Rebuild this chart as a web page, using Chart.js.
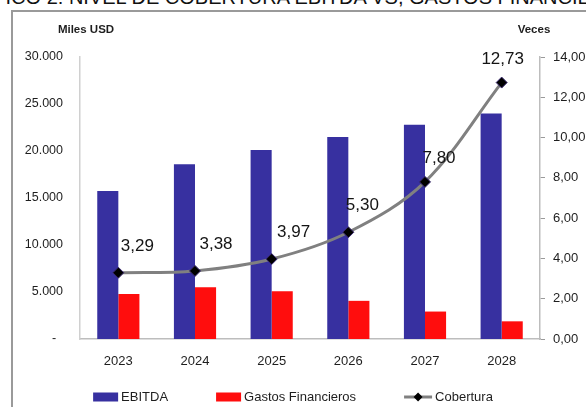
<!DOCTYPE html>
<html>
<head>
<meta charset="utf-8">
<script src="https://cdn.jsdelivr.net/npm/chart.js@4/dist/chart.umd.min.js"></script>
<style>
  html, body { margin:0; padding:0; background:#fff; overflow:hidden; }
  body { width:586px; height:407px; position:relative; }
  #title { position:absolute; left:-50px; top:-13px; white-space:nowrap; font-family:"Liberation Sans", Arial, sans-serif; font-size:20px; line-height:20px; color:#111; }
  #frame { position:absolute; left:11px; top:10px; width:640px; height:460px; border:2px solid #9a9a9a; box-sizing:border-box; }
  #c { position:absolute; left:0; top:0; }
</style>
</head>
<body>
<div id="title">GRÁFICO 2: NIVEL DE COBERTURA EBITDA VS, GASTOS FINANCIEROS</div>
<div id="frame"></div>
<canvas id="c" width="586" height="407"></canvas>
<script>
const years = ['2023', '2024', '2025', '2026', '2027', '2028'];
const ebitda = [15750, 18600, 20100, 21500, 22800, 24000];
const gastosFinancieros = [4800, 5500, 5070, 4060, 2920, 1880];
const cobertura = [3.29, 3.38, 3.97, 5.30, 7.80, 12.73];
const coberturaLabels = ['3,29', '3,38', '3,97', '5,30', '7,80', '12,73'];
const leftTicks = ['-  ', '5.000', '10.000', '15.000', '20.000', '25.000', '30.000'];
const rightTicks = ['0,00', '2,00', '4,00', '6,00', '8,00', '10,00', '12,00', '14,00'];
const seriesNames = ['EBITDA', 'Gastos Financieros', 'Cobertura'];
const leftAxisTitle = 'Miles USD';
const rightAxisTitle = 'Veces';

const FONT = '"Liberation Sans", Arial, sans-serif';
const BLUE = '#3730A0';
const RED = '#FF0D0D';
const GRAY = '#808080';
const TXT = '#1e1e1e';

const labelPlugin = {
  id: 'extras',
  afterDatasetsDraw(chart) {
    const ctx = chart.ctx;
    const meta = chart.getDatasetMeta(2);
    const dx = [19, 21, 22, 14, 14, 1];
    const dy = [-26, -27, -27, -27, -24, -23];
    ctx.save();
    ctx.font = '17px ' + FONT;
    ctx.fillStyle = '#141414';
    ctx.textAlign = 'center';
    ctx.textBaseline = 'middle';
    meta.data.forEach((pt, i) => {
      ctx.fillText(coberturaLabels[i], pt.x + dx[i], pt.y + dy[i]);
    });
    ctx.restore();
  },
  afterDraw(chart) {
    const ctx = chart.ctx;
    const a = chart.chartArea;
    ctx.save();
    ctx.font = 'bold 11.5px ' + FONT;
    ctx.fillStyle = TXT;
    ctx.textAlign = 'center';
    ctx.textBaseline = 'middle';
    ctx.fillText(leftAxisTitle, a.left + 6, 30);
    ctx.fillText(rightAxisTitle, a.right - 6, 30);
    ctx.font = '13px ' + FONT;
    const ds = chart.data.datasets;
    const sw = 25, gapT = 3, gapI = 48, lineW = 28;
    const widths = ds.map((d, i) => (i < 2 ? sw : lineW) + gapT + ctx.measureText(d.label).width);
    const total = widths.reduce((s, w) => s + w, 0) + gapI * (ds.length - 1);
    let x = 293 - total / 2;
    const yc = 397;
    ctx.textAlign = 'left';
    ds.forEach((d, i) => {
      if (i < 2) {
        ctx.fillStyle = d.backgroundColor;
        ctx.fillRect(x, yc - 4.5, sw, 9);
        x += sw + gapT;
      } else {
        ctx.strokeStyle = d.borderColor;
        ctx.lineWidth = 3;
        ctx.beginPath();
        ctx.moveTo(x, yc);
        ctx.lineTo(x + lineW, yc);
        ctx.stroke();
        const cx = x + lineW / 2;
        ctx.fillStyle = '#000';
        ctx.beginPath();
        ctx.moveTo(cx, yc - 4.5);
        ctx.lineTo(cx + 4.5, yc);
        ctx.lineTo(cx, yc + 4.5);
        ctx.lineTo(cx - 4.5, yc);
        ctx.closePath();
        ctx.fill();
        x += lineW + gapT;
      }
      ctx.fillStyle = TXT;
      ctx.fillText(d.label, x, yc);
      x += ctx.measureText(d.label).width + gapI;
    });
    ctx.restore();
  }
};

new Chart(document.getElementById('c'), {
  type: 'bar',
  data: {
    labels: years,
    datasets: [
      { label: seriesNames[0], data: ebitda, backgroundColor: BLUE, borderWidth: 0, yAxisID: 'y', order: 2,
        categoryPercentage: 0.55, barPercentage: 1.0 },
      { label: seriesNames[1], data: gastosFinancieros, backgroundColor: RED, borderWidth: 0, yAxisID: 'y', order: 2,
        categoryPercentage: 0.55, barPercentage: 1.0 },
      { type: 'line', label: seriesNames[2], data: cobertura, yAxisID: 'y1', order: 0,
        borderColor: GRAY, borderWidth: 3, tension: 0.35, fill: false,
        pointStyle: 'rectRot', pointRadius: 5.5, pointBackgroundColor: '#000', pointBorderColor: '#3a2a70', pointBorderWidth: 1 }
    ]
  },
  options: {
    responsive: false,
    animation: false,
    devicePixelRatio: 1,
    layout: { padding: { top: 57, left: 0, right: 0, bottom: 0 } },
    plugins: { legend: { display: false }, tooltip: { enabled: false }, title: { display: false } },
    scales: {
      x: {
        grid: { display: false, drawTicks: false },
        border: { display: true, color: '#bdbdbd', width: 1.5 },
        ticks: { color: TXT, font: { family: FONT, size: 13 }, padding: 15, maxRotation: 0, autoSkip: false },
        afterFit(s) { s.height = 68; }
      },
      y: {
        position: 'left', min: 0, max: 30000,
        grid: { display: false, drawTicks: false },
        border: { display: true, color: '#d0d0d0', width: 1.5 },
        ticks: { stepSize: 5000, color: TXT, font: { family: FONT, size: 12.5 }, padding: 17,
          callback: (v, i) => leftTicks[i] },
        afterFit(s) { s.width = 80; }
      },
      y1: {
        position: 'right', min: 0, max: 14,
        grid: { display: true, drawOnChartArea: false, drawTicks: true, tickLength: 5, color: '#9a9a9a' },
        border: { display: true, color: '#bdbdbd', width: 1.5 },
        ticks: { stepSize: 2, color: TXT, font: { family: FONT, size: 13 }, padding: 8,
          callback: (v, i) => rightTicks[i] },
        afterFit(s) { s.width = 46; }
      }
    }
  },
  plugins: [labelPlugin]
});
</script>
</body>
</html>
